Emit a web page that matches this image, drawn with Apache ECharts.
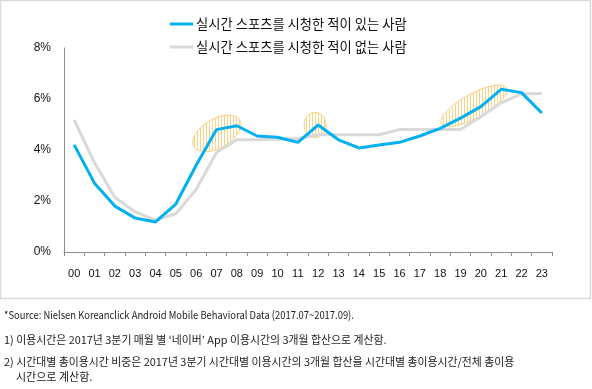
<!DOCTYPE html>
<html>
<head>
<meta charset="utf-8">
<script src="https://cdn.jsdelivr.net/npm/echarts@6/dist/echarts.min.js"></script>
<style>
html,body{margin:0;padding:0;background:#fff;}
#chart{width:592px;height:389px;}
</style>
</head>
<body>
<div id="chart"></div>
<script>
var hours = ['00','01','02','03','04','05','06','07','08','09','10','11','12','13','14','15','16','17','18','19','20','21','22','23'];
var watchedName = '실시간 스포츠를 시청한 적이 있는 사람';
var notWatchedName = '실시간 스포츠를 시청한 적이 없는 사람';
var watched = [4.2, 2.7, 1.8, 1.33, 1.18, 1.88, 3.4, 4.8, 4.95, 4.55, 4.5, 4.3, 4.98, 4.4, 4.08, 4.2, 4.3, 4.55, 4.85, 5.25, 5.7, 6.38, 6.25, 5.45];
var notWatched = [5.18, 3.5, 2.15, 1.57, 1.25, 1.5, 2.45, 3.9, 4.4, 4.4, 4.42, 4.45, 4.6, 4.6, 4.6, 4.6, 4.8, 4.8, 4.8, 4.8, 5.3, 5.85, 6.2, 6.22];
var yTicks = [0, 2, 4, 6, 8];
var footnotes = [
  '*Source: Nielsen Koreanclick Android Mobile Behavioral Data (2017.07~2017.09).',
  '1) 이용시간은 2017년 3분기 매월 별 ‘네이버’ App 이용시간의 3개월 합산으로 계산함.',
  '2) 시간대별 총이용시간 비중은 2017년 3분기 시간대별 이용시간의 3개월 합산을 시간대별 총이용시간/전체 총이용',
  '시간으로 계산함.'
];
// highlight ellipses: [category position, value, semi-major px, semi-minor px, tilt deg]
var highlights = [
  [7.02, 4.65, 26.5, 14.5, 30],
  [11.85, 4.98, 12.5, 11, 90],
  [19.66, 5.73, 37, 12, 29]
];

var KR = '"Noto Sans CJK KR", "Noto Sans", sans-serif';
var chart = echarts.init(document.getElementById('chart'), null, {renderer: 'canvas'});

var option = {
  animation: false,
  backgroundColor: '#fff',
  grid: {left: 64, right: 40, top: 48, bottom: 137, containLabel: false},
  legend: {
    orient: 'vertical',
    left: 170,
    top: 16,
    padding: 0,
    itemGap: 7,
    icon: 'rect',
    itemWidth: 23,
    itemHeight: 3,
    selectedMode: false,
    textStyle: {fontFamily: KR, fontSize: 13.3, color: '#111', lineHeight: 16, padding: [0, 0, 0, -2]},
    data: [
      {name: watchedName, itemStyle: {color: '#00B0F0'}},
      {name: notWatchedName, itemStyle: {color: '#D9D9D9'}}
    ]
  },
  xAxis: {
    type: 'category',
    data: hours,
    boundaryGap: true,
    axisLine: {lineStyle: {color: '#8c8c8c', width: 1}},
    axisTick: {show: true, length: 4, lineStyle: {color: '#8c8c8c'}},
    axisLabel: {fontFamily: 'Liberation Sans, sans-serif', fontSize: 11, color: '#111', margin: 16, interval: 0}
  },
  yAxis: {
    type: 'value',
    min: yTicks[0],
    max: yTicks[yTicks.length - 1],
    interval: 2,
    axisLine: {show: true, lineStyle: {color: '#8c8c8c', width: 1}},
    axisTick: {show: false},
    splitLine: {show: false},
    axisLabel: {fontFamily: 'Liberation Sans, sans-serif', fontSize: 12, color: '#111', margin: 13, formatter: '{value}%'}
  },
  series: [
    {
      name: notWatchedName, type: 'line', data: notWatched, symbol: 'none', z: 3,
      lineStyle: {color: '#D9D9D9', width: 3}, itemStyle: {color: '#D9D9D9'}
    },
    {
      name: watchedName, type: 'line', data: watched, symbol: 'none', z: 4,
      lineStyle: {color: '#00B0F0', width: 3}, itemStyle: {color: '#00B0F0'}
    }
  ]
};
chart.setOption(option);

function pos(idx, val) {
  var i0 = Math.floor(idx), i1 = Math.min(i0 + 1, hours.length - 1);
  var p0 = chart.convertToPixel({gridIndex: 0}, [i0, val]);
  var p1 = chart.convertToPixel({gridIndex: 0}, [i1, val]);
  var f = idx - i0;
  return [p0[0] + (p1[0] - p0[0]) * f, p0[1]];
}

var graphics = [];
// frame
graphics.push({type: 'rect', z: -1, shape: {x: 0.5, y: 0.5, width: 590, height: 298}, style: {fill: 'none', stroke: '#D9D9D9', lineWidth: 1.5}, silent: true});

highlights.forEach(function (h) {
  var c = pos(h[0], h[1]);
  var a = h[2], b = h[3], th = h[4] * Math.PI / 180;
  var cs = Math.cos(th), sn = Math.sin(th);
  var pts = [];
  for (var k = 0; k < 72; k++) {
    var t = k / 72 * Math.PI * 2;
    var s = a * Math.cos(t), r = b * Math.sin(t);
    pts.push([c[0] + s * cs + r * sn, c[1] - s * sn + r * cs]);
  }
  graphics.push({type: 'polygon', z: 0, shape: {points: pts}, style: {fill: 'rgba(255,255,255,0)', stroke: '#F7CD72', lineWidth: 1}, silent: true});
  var A = sn * sn / (a * a) + cs * cs / (b * b);
  var halfW = Math.sqrt(a * a * cs * cs + b * b * sn * sn);
  for (var dx = -halfW + 1.5; dx < halfW; dx += 3) {
    var B = 2 * dx * sn * cs * (1 / (b * b) - 1 / (a * a));
    var C = dx * dx * (cs * cs / (a * a) + sn * sn / (b * b)) - 1;
    var D = B * B - 4 * A * C;
    if (D <= 0) continue;
    var y1 = (-B - Math.sqrt(D)) / (2 * A), y2 = (-B + Math.sqrt(D)) / (2 * A);
    var x = Math.round(c[0] + dx) + 0.5;
    graphics.push({type: 'line', z: 0, shape: {x1: x, y1: c[1] + y1, x2: x, y2: c[1] + y2}, style: {stroke: '#F9D384', lineWidth: 1}, silent: true});
  }
});

var noteY = [315, 340, 362, 377];
var noteX = [4, 4, 4, 16];
var noteScale = [0.855, 0.99, 0.99, 1];
footnotes.forEach(function (t, i) {
  graphics.push({type: 'text', z: 5, x: noteX[i], y: noteY[i], scaleX: noteScale[i], style: {text: t, fontFamily: KR, fontSize: 11, fill: '#222', verticalAlign: 'middle', align: 'left'}, silent: true});
});

chart.setOption({graphic: graphics});
</script>
</body>
</html>
